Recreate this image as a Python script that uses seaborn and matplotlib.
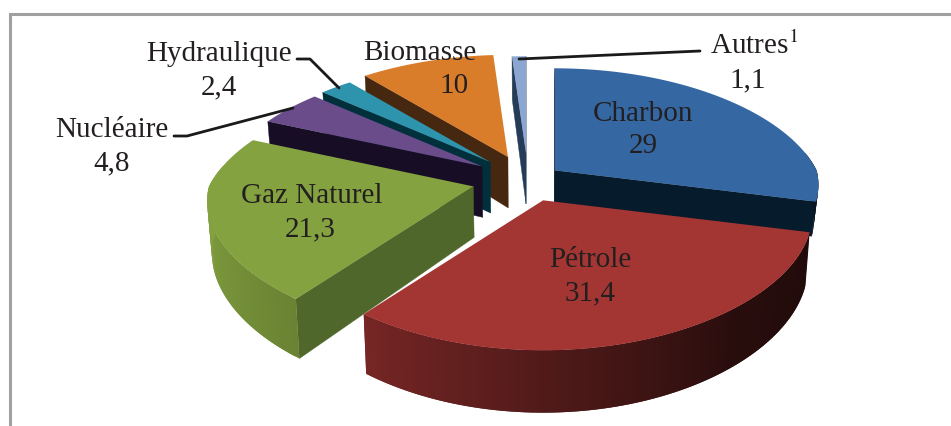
import numpy as np
import matplotlib
matplotlib.use("Agg")
import matplotlib.pyplot as plt
import seaborn as sns

names = ["Charbon", "Pétrole", "Gaz Naturel", "Nucléaire", "Hydraulique", "Biomasse", "Autres"]
values = [29, 31.4, 21.3, 4.8, 2.4, 10, 1.1]
top_colors = ["#3568a3", "#a33533", "#84a340", "#6a4c8a", "#2e94ae", "#da7d2b", "#8ca6d2"]
face_colors = ["#061b2b", "#2a0f0a", "#50672b", "#170e26", "#00303c", "#46270f", "#253c58"]
explode = [0.13, 0.17, 0.21, 0.21, 0.21, 0.21, 0.23]
radius = [0.98, 1, 0.99, 0.96, 0.96, 0.98, 0.92]
depths = [33, 51, 51, 51, 51, 51, 51]

# fake 3D: pie plane squashed with a bit of perspective
cx, cy = 528, 180
rx, ry, k = 267, 122.7, 0.182


def project(x, y):
    kx = np.where(np.asarray(y) > 0, 0.234, 0.12)
    return cx + rx * x / (1 + kx * y), cy - ry * y / (1 + k * y)


def slice_point(theta, r, off):
    # theta clockwise from the top, in radians
    ox, oy = project(*off)
    px, py = project(r * np.sin(theta), r * np.cos(theta))
    return ox + px - cx, oy + py - cy


def wall_height(theta, depth):
    return depth / (1 + k * np.cos(theta))


def low(x):
    # vertical edges lean in a little towards the bottom
    return cx + (x - cx) * 0.985


def shade(color, factor):
    rgb = np.array(matplotlib.colors.to_rgb(color))
    return tuple(rgb * factor)


sns.set_theme(style="white")
plt.rcParams["font.family"] = ["Liberation Serif", "DejaVu Serif"]
plt.rcParams["mathtext.fontset"] = "stix"

fig = plt.figure(figsize=(9.51, 4.26), dpi=100)
ax = fig.add_axes([0, 0, 1, 1])
ax.set_xlim(0, 951)
ax.set_ylim(426, 0)
ax.axis("off")

# chart frame
ax.plot([9.5, 9.5, 951], [426, 13.5, 13.5], color="#a0a0a2", lw=2.2, solid_joinstyle="miter")

edges = np.radians(np.concatenate([[0], np.cumsum(values)]) * 3.6)
palette = sns.color_palette(top_colors)

# back slices first, the red one last
for i in [6, 5, 4, 3, 2, 0, 1]:
    t0, t1 = edges[i], edges[i + 1]
    mid = (t0 + t1) / 2
    off = (explode[i] * np.sin(mid), explode[i] * np.cos(mid))
    ox, oy = project(*off)
    r = radius[i]
    depth = depths[i]

    # radial faces, only the ones turned to the viewer
    for t, sign in [(t0, -1), (t1, 1)]:
        if sign * -np.sin(t) < 0.01:
            rim = slice_point(t, r, off)
            h = wall_height(t, depth)
            ax.fill([ox, rim[0], low(rim[0]), low(ox)], [oy, rim[1], rim[1] + h, oy + depth],
                    color=face_colors[i], lw=0.3)

    # outer wall, cut in small steps for the gradient
    steps = np.linspace(t0, t1, max(int(np.degrees(t1 - t0)) + 1, 2))
    step = steps[1] - steps[0]
    for a in steps[:-1]:
        b = min(a + 2 * step, t1)
        if np.cos(a + step / 2) > 0.15:
            continue
        pa, pb = slice_point(a, r, off), slice_point(b, r, off)
        deg = np.degrees(a + step / 2)
        f = np.interp(deg, [104, 140, 180, 217, 270, 360], [0.2, 0.25, 0.5, 0.72, 0.98, 0.98])
        if i == 2:
            f = np.interp(deg, [217, 270], [0.8, 1.0])
        ax.fill([pa[0], pb[0], low(pb[0]), low(pa[0])],
                [pa[1], pb[1], pb[1] + wall_height(b, depth), pa[1] + wall_height(a, depth)],
                color=shade(palette[i], f), lw=0)

    # top face
    arc = np.linspace(t0, t1, 120)
    xs, ys = slice_point(arc, r, off)
    ax.fill(np.r_[ox, xs], np.r_[oy, ys], color=palette[i], lw=0)

# leader lines
ax.plot([297, 310, 339], [59, 59, 88], color="#1a1a1a", lw=2)
ax.plot([174, 187, 293], [136, 136, 108], color="#1a1a1a", lw=2)
ax.plot([700, 519], [51, 59], color="#1a1a1a", lw=2)

# data labels
label_pos = {
    "Charbon": (643, 114, 643, 146),
    "Pétrole": (590, 260, 590, 293),
    "Gaz Naturel": (312, 196, 310, 229),
    "Nucléaire": (112, 130, 112, 163),
    "Hydraulique": (219, 54, 219, 87),
    "Biomasse": (420, 53, 454, 86),
    "Autres": (754, 46, 748, 80),
}
for name, v in zip(names, values):
    x0, y0, x1, y1 = label_pos[name]
    title = name + "$^{1}$" if name == "Autres" else name
    ax.text(x0, y0, title, ha="center", va="center", fontsize=21, color="#231f20")
    ax.text(x1, y1, f"{v:g}".replace(".", ","), ha="center", va="center", fontsize=21, color="#231f20")

fig.savefig("out.png", dpi=100)
